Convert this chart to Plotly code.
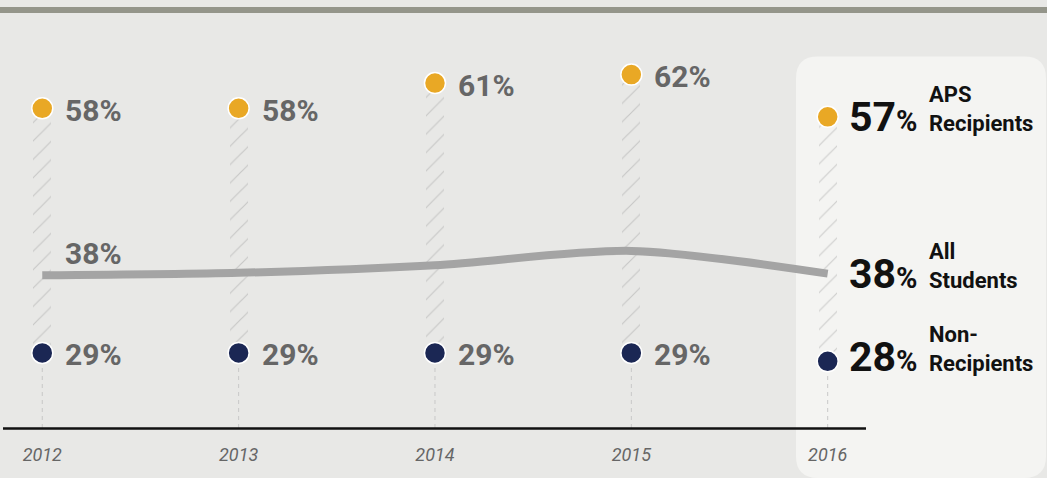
import plotly.graph_objects as go

years = [2012, 2013, 2014, 2015, 2016]
tick_labels = ["2012", "2013", "2014", "2015", "2016"]
aps = [58, 58, 61, 62, 57]
non_recipients = [29, 29, 29, 29, 28]
all_students = [38.2, 38.5, 39.4, 41.1, 38.4]
aps_labels = ["58%", "58%", "61%", "62%", "57%"]
non_labels = ["29%", "29%", "29%", "29%", "28%"]
all_labels = ["38%", "", "", "", "38%"]
series_names = ["APS<br>Recipients", "All<br>Students", "Non-<br>Recipients"]

W, H = 1047, 478
ML, MR, MT, MB = 3, 182, 23.5, 50
PW = W - ML - MR
PH = H - MT - MB
X_RANGE = [2011.80, 2016.19]
Y_RANGE = [20.1, 68]

def px(x):
    return (x - ML) / PW

def py(y):
    return (H - MB - y) / PH

BG = "#e8e8e6"
PANEL = "#f4f4f2"
GOLD = "#e9a825"
NAVY = "#1b2754"
GRAYTXT = "#666666"

fig = go.Figure()

# dashed guides from non-recipient dot down to axis
dx, dy = [], []
for yr, v in zip(years, non_recipients):
    dx += [yr, yr, None]
    dy += [Y_RANGE[0], v, None]
fig.add_trace(go.Scatter(x=dx, y=dy, mode="lines",
                         line=dict(color="#c8c8c8", width=1, dash="4px,4px"),
                         hoverinfo="skip", showlegend=False))

# hatched columns between the two groups
fig.add_trace(go.Bar(x=years, y=[a - n for a, n in zip(aps, non_recipients)],
                     base=non_recipients, width=0.092,
                     marker=dict(color="rgba(0,0,0,0)", line=dict(width=0),
                                 pattern=dict(shape="/", fgcolor="#a6a6a6",
                                              size=13, solidity=0.09)),
                     hoverinfo="skip", showlegend=False))

# all-students line
fig.add_trace(go.Scatter(x=years, y=all_students, mode="lines",
                         line=dict(color="#a4a4a4", width=8, shape="spline", smoothing=0.8),
                         hoverinfo="skip", showlegend=False))

# dots
fig.add_trace(go.Scatter(x=years, y=aps, mode="markers",
                         marker=dict(color=GOLD, size=21, line=dict(color="white", width=1.5)),
                         hoverinfo="skip", showlegend=False, cliponaxis=False))
fig.add_trace(go.Scatter(x=years, y=non_recipients, mode="markers",
                         marker=dict(color=NAVY, size=21, line=dict(color="white", width=1.5)),
                         hoverinfo="skip", showlegend=False, cliponaxis=False))

annotations = []
label_font = dict(family="Roboto", size=30, color=GRAYTXT, weight="bold")
for i, yr in enumerate(years[:-1]):
    annotations.append(dict(x=yr, y=aps[i], xref="x", yref="y", text=aps_labels[i],
                            showarrow=False, xanchor="left", yanchor="middle",
                            xshift=21, yshift=-2, font=label_font))
    annotations.append(dict(x=yr, y=non_recipients[i], xref="x", yref="y", text=non_labels[i],
                            showarrow=False, xanchor="left", yanchor="middle",
                            xshift=21, yshift=-2, font=label_font))
    if all_labels[i]:
        annotations.append(dict(x=yr, y=all_students[i], xref="x", yref="y", text=all_labels[i],
                                showarrow=False, xanchor="left", yanchor="middle",
                                xshift=21, yshift=22, font=label_font))

# 2016 highlighted labels
last = len(years) - 1
big_font = dict(family="Roboto", size=41, color="#111111", weight="bold")
name_font = dict(family="Roboto", size=22, color="#111111", weight="bold")
for val, lab, name, ys in [(aps[last], aps_labels[last], series_names[0], 0),
                           (all_students[last], all_labels[last], series_names[1], 0),
                           (non_recipients[last], non_labels[last], series_names[2], 4)]:
    num = lab.rstrip("%")
    annotations.append(dict(x=years[last], y=val, xref="x", yref="y",
                            text=num + "<span style='font-size:29px'>%</span>",
                            showarrow=False, xanchor="left", yanchor="middle",
                            xshift=19, yshift=ys, font=big_font))
    annotations.append(dict(x=years[last], y=val, xref="x", yref="y",
                            text=name, showarrow=False, xanchor="left", yanchor="middle",
                            align="left", xshift=99, yshift=ys + 8, font=name_font))

# panel with rounded corners (pixel coordinates converted to paper)
x0, x1, y0, y1, r = 796, 1046, 56, 478, 22
rx, ry = r / PW, r / PH
X0, X1, Y0, Y1 = px(x0), px(x1), py(y0), py(y1)
panel_path = (f"M {X0+rx},{Y0} L {X1-rx},{Y0} Q {X1},{Y0} {X1},{Y0-ry} "
              f"L {X1},{Y1+ry} Q {X1},{Y1} {X1-rx},{Y1} L {X0+rx},{Y1} "
              f"Q {X0},{Y1} {X0},{Y1+ry} L {X0},{Y0-ry} Q {X0},{Y0} {X0+rx},{Y0} Z")

shapes = [
    dict(type="path", path=panel_path, xref="paper", yref="paper",
         fillcolor=PANEL, line=dict(width=0), layer="below"),
    dict(type="rect", xref="paper", yref="paper", x0=px(0), x1=px(W),
         y0=py(12.5), y1=py(6.5), fillcolor="#94958a", line=dict(width=0), layer="below"),
    dict(type="line", xref="paper", yref="paper", x0=px(3), x1=px(866),
         y0=py(428.5), y1=py(428.5), line=dict(color="#111111", width=2.5)),
]

fig.update_layout(
    width=W, height=H,
    margin=dict(l=ML, r=MR, t=MT, b=MB, pad=0),
    paper_bgcolor=BG, plot_bgcolor="rgba(0,0,0,0)",
    showlegend=False,
    xaxis=dict(range=X_RANGE, tickvals=years, ticktext=tick_labels,
               showgrid=False, zeroline=False, showline=False, ticks="",
               tickfont=dict(family="Roboto", size=18, color=GRAYTXT, style="italic"),
               ticklabelstandoff=14, fixedrange=True),
    yaxis=dict(range=Y_RANGE, visible=False, showgrid=False, zeroline=False, fixedrange=True),
    annotations=annotations, shapes=shapes, bargap=0,
)

fig.write_html("out.html", config={"displayModeBar": False},
               post_script="document.body.style.margin='0';document.body.style.background='#e8e8e6';")
